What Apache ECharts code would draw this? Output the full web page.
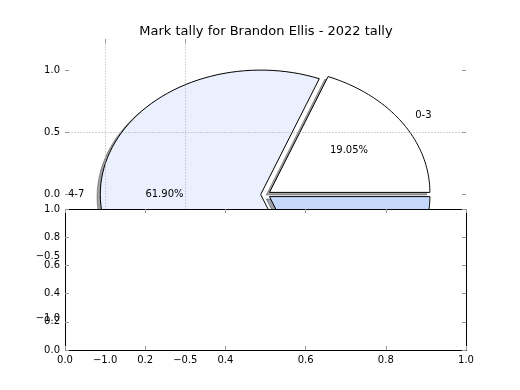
<!DOCTYPE html>
<html>
<head>
<meta charset="utf-8">
<script src="https://cdn.jsdelivr.net/npm/echarts@6/dist/echarts.min.js"></script>
<style>
html,body{margin:0;padding:0;background:#fff;}
#chart{width:520px;height:390px;}
</style>
</head>
<body>
<div id="chart"></div>
<script>
// tally data
var categories = ['0-3', '4-7', '8-10'];
var tally = [4, 13, 4];
// tick labels
var pieXTicks = [-1.0, -0.5];
var pieYTicks = [1.0, 0.5, 0.0, -0.5, -1.0];
var gridXs = [-1.0, -0.5];
var gridYs = [0.5];

var sliceColors = ['#ffffff', '#eaf0fd', '#c6d9fb'];
var explode = 0.03;
var FONT = 'DejaVu Sans';

function fmt(v){
	return (v < 0 ? '\u2212' : '') + Math.abs(v).toFixed(1);
}

var total = 0;
for (var k = 0; k < tally.length; k++) total += tally[k];

function wedgeAngles(i){
	var before = 0;
	for (var j = 0; j < i; j++) before += tally[j];
	var t1 = before / total * Math.PI * 2;
	var t2 = (before + tally[i]) / total * Math.PI * 2;
	return [t1, t2, (t1 + t2) / 2];
}

function wedgePoints(api, i, dx, dy){
	var a = wedgeAngles(i);
	var cx = explode * Math.cos(a[2]) + dx;
	var cy = explode * Math.sin(a[2]) + dy;
	var pts = [api.coord([cx, cy])];
	var n = 90;
	for (var s = 0; s <= n; s++) {
		var t = a[0] + (a[1] - a[0]) * s / n;
		pts.push(api.coord([cx + Math.cos(t), cy + Math.sin(t)]));
	}
	return pts;
}

function shade(hex){
	var r = parseInt(hex.substr(1,2),16), g = parseInt(hex.substr(3,2),16), b = parseInt(hex.substr(5,2),16);
	return 'rgb(' + Math.round(r*0.3) + ',' + Math.round(g*0.3) + ',' + Math.round(b*0.3) + ')';
}

function axis(grid, pos, min, max, interval, z, ticks, labels){
	var a = {
		gridIndex: grid, type: 'value', position: pos, min: min, max: max, interval: interval, z: z,
		axisLine: {show: false, onZero: false},
		axisTick: {show: true, inside: true, length: 4, lineStyle: {color: '#999'}},
		axisLabel: {show: labels, formatter: fmt, margin: 5, color: '#000', fontFamily: FONT, fontSize: 10},
		splitLine: {show: false}
	};
	if (ticks) {
		a.axisTick.customValues = ticks;
		a.axisLabel.customValues = ticks;
	}
	return a;
}

var myChart = echarts.init(document.getElementById('chart'), null, {renderer: 'canvas'});
var option = {
	animation: false,
	backgroundColor: '#fff',
	title: {
		text: 'Mark tally for Brandon Ellis - 2022 tally',
		left: 261,
		textAlign: 'center',
		top: 20,
		textStyle: {fontFamily: FONT, fontSize: 13, fontWeight: 'normal', color: '#000'}
	},
	grid: [
		{left: 65, top: 39, width: 401, height: 311},
		{left: 65, top: 209, width: 401, height: 141}
	],
	xAxis: [
		axis(0, 'bottom', -1.25, 1.25, 0.25, 3, pieXTicks, true),
		axis(0, 'top', -1.25, 1.25, 0.25, 3, pieXTicks, false),
		axis(1, 'bottom', 0, 1, 0.2, 10, null, true),
		axis(1, 'top', 0, 1, 0.2, 10, null, false)
	],
	yAxis: [
		axis(0, 'left', -1.25, 1.25, 0.25, 3, pieYTicks, true),
		axis(0, 'right', -1.25, 1.25, 0.25, 3, pieYTicks, false),
		axis(1, 'left', 0, 1, 0.2, 10, null, true),
		axis(1, 'right', 0, 1, 0.2, 10, null, false)
	],
	series: [
		{
			// pie shadows
			type: 'custom', xAxisIndex: 0, yAxisIndex: 0, z: 1, silent: true,
			data: tally.map(function(v, i){ return [0, 0, i]; }),
			renderItem: function(params, api){
				var i = params.dataIndex;
				var c = shade(sliceColors[i]);
				return {
					type: 'polygon',
					shape: {points: wedgePoints(api, i, -0.02, -0.02)},
					style: {fill: c, stroke: c, lineWidth: 1, opacity: 0.5}
				};
			}
		},
		{
			// pie wedges and labels
			type: 'custom', xAxisIndex: 0, yAxisIndex: 0, z: 2, silent: true,
			data: tally.map(function(v, i){ return [0, 0, i]; }),
			renderItem: function(params, api){
				var i = params.dataIndex;
				var a = wedgeAngles(i);
				var ex = explode * Math.cos(a[2]), ey = explode * Math.sin(a[2]);
				var lx = ex + 1.1 * Math.cos(a[2]), ly = ey + 1.1 * Math.sin(a[2]);
				var px = ex + 0.6 * Math.cos(a[2]), py = ey + 0.6 * Math.sin(a[2]);
				var lp = api.coord([lx, ly]), pp = api.coord([px, py]);
				return {
					type: 'group',
					children: [
						{
							type: 'polygon',
							shape: {points: wedgePoints(api, i, 0, 0)},
							style: {fill: sliceColors[i], stroke: '#000', lineWidth: 1}
						},
						{
							type: 'text',
							style: {x: lp[0], y: lp[1], text: categories[i], fill: '#000', font: '10px "' + FONT + '"',
								align: lx > 0 ? 'left' : 'right', verticalAlign: 'middle'}
						},
						{
							type: 'text',
							style: {x: pp[0], y: pp[1], text: (tally[i] / total * 100).toFixed(2) + '%', fill: '#000', font: '10px "' + FONT + '"',
								align: 'center', verticalAlign: 'middle'}
						}
					]
				};
			}
		},
		{
			// dotted grid lines on top of the pie
			type: 'custom', xAxisIndex: 0, yAxisIndex: 0, z: 3, silent: true,
			data: gridXs.map(function(v){ return [v, 0, 0]; }).concat(gridYs.map(function(v){ return [0, v, 1]; })),
			renderItem: function(params, api){
				var p1, p2;
				if (api.value(2) === 0) {
					p1 = api.coord([api.value(0), -1.25]);
					p2 = api.coord([api.value(0), 1.25]);
				} else {
					p1 = api.coord([-1.25, api.value(1)]);
					p2 = api.coord([1.25, api.value(1)]);
				}
				return {
					type: 'line',
					shape: {x1: Math.round(p1[0]) + 0.5, y1: Math.round(p1[1]) + 0.5, x2: Math.round(p2[0]) + 0.5, y2: Math.round(p2[1]) + 0.5},
					style: {stroke: '#aaa', lineWidth: 1, lineDash: [1, 2]}
				};
			}
		},
		{
			// second (empty) axes box drawn over the lower half
			type: 'custom', xAxisIndex: 2, yAxisIndex: 2, z: 5, silent: true,
			data: [[0, 0]],
			renderItem: function(params, api){
				var p0 = api.coord([0, 0]), p1 = api.coord([1, 1]);
				var x = Math.round(p0[0]) + 0.5, y = Math.round(p1[1]) + 0.5;
				return {
					type: 'rect',
					shape: {x: x, y: y, width: Math.round(p1[0] - p0[0]), height: Math.round(p0[1] - p1[1])},
					style: {fill: '#fff', stroke: '#000', lineWidth: 1}
				};
			}
		}
	]
};
myChart.setOption(option);
</script>
</body>
</html>
